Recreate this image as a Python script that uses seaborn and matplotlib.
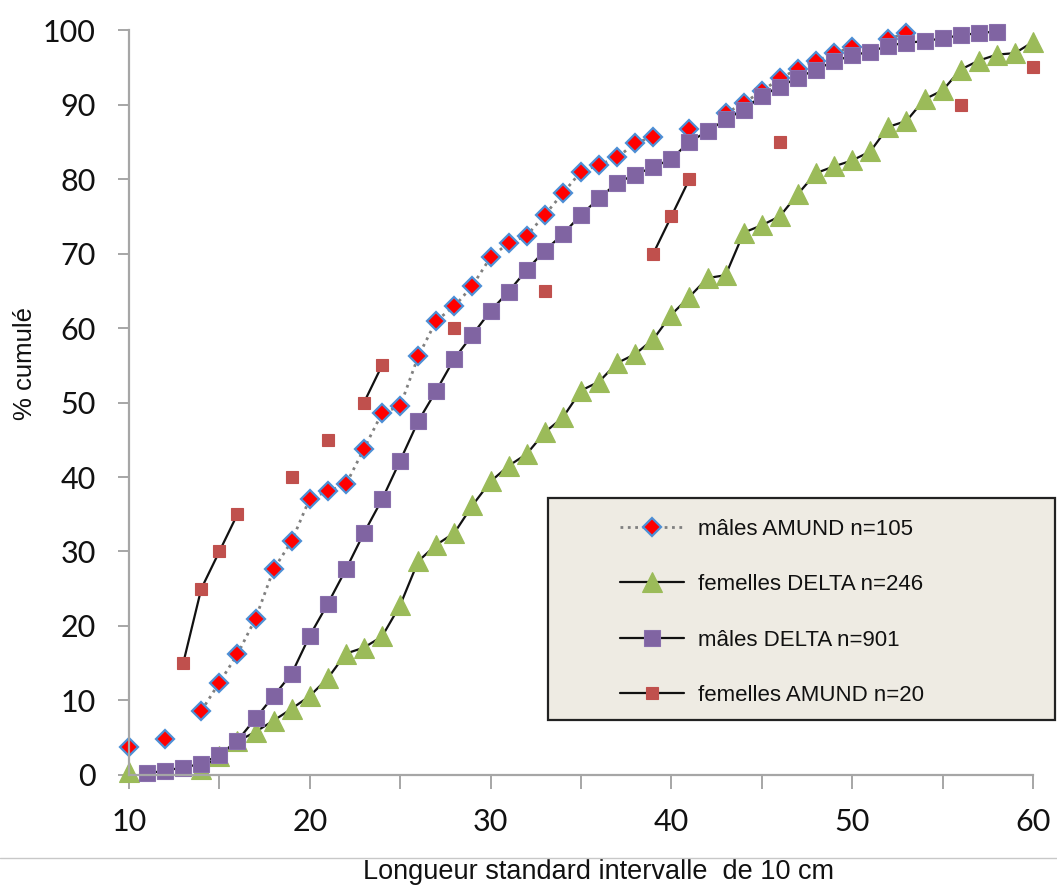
import numpy as np
import pandas as pd
import matplotlib
matplotlib.use('Agg')
import matplotlib.pyplot as plt
from matplotlib.lines import Line2D
from matplotlib.patches import Rectangle
from matplotlib.ticker import MultipleLocator
import seaborn as sns

nan = np.nan
longueur = list(range(10, 61))

# cumulative % per length class (nan = no value in that class)
males_amund = [3.8, nan, 4.8, nan, 8.6, 12.4, 16.2, 21.0, 27.6, 31.4,
               37.1, 38.1, 39.0, 43.8, 48.6, 49.5, 56.2, 61.0, 62.9, 65.7,
               69.5, 71.4, 72.4, 75.2, 78.1, 81.0, 81.9, 82.9, 84.8, 85.7,
               nan, 86.7, nan, 88.8, 90.2, 91.8, 93.5, 94.8, 95.8, 96.9,
               97.7, nan, 98.8, 99.6, nan, nan, nan, nan, nan, nan, nan]
femelles_delta = [0.4, nan, nan, nan, 0.8, 2.6, 4.5, 5.8, 7.3, 8.9,
                  10.6, 13.0, 16.3, 17.1, 18.6, 22.8, 28.7, 30.9, 32.5, 36.2,
                  39.4, 41.5, 43.1, 46.0, 48.0, 51.6, 52.8, 55.3, 56.5, 58.5,
                  61.8, 64.2, 66.7, 67.1, 72.8, 73.8, 75.0, 78.0, 80.8, 81.7,
                  82.5, 83.7, 87.0, 87.8, 90.7, 91.9, 94.7, 95.9, 96.7, 96.9, 98.4]
males_delta = [nan, 0.2, 0.6, 1.0, 1.5, 2.7, 4.6, 7.6, 10.6, 13.6,
               18.7, 23.0, 27.6, 32.5, 37.0, 42.2, 47.5, 51.6, 55.9, 59.1,
               62.3, 64.9, 67.8, 70.4, 72.6, 75.2, 77.4, 79.5, 80.6, 81.6,
               82.7, 85.0, 86.4, 88.0, 89.3, 91.2, 92.4, 93.6, 94.7, 95.8,
               96.6, 97.1, 97.9, 98.3, 98.5, 98.9, 99.3, 99.6, 99.8, nan, nan]
femelles_amund = [nan, nan, nan, 15, 25, 30, 35, nan, nan, 40,
                  nan, 45, nan, 50, 55, nan, nan, nan, 60, nan,
                  nan, nan, nan, 65, nan, nan, nan, nan, nan, 70,
                  75, 80, nan, nan, nan, nan, 85, nan, nan, nan,
                  nan, nan, nan, nan, nan, nan, 90, nan, nan, nan, 95]

labels = ["mâles AMUND n=105", "femelles DELTA n=246",
          "mâles DELTA n=901", "femelles AMUND n=20"]
values = [males_amund, femelles_delta, males_delta, femelles_amund]

styles = [
    dict(color='#808080', lw=2, linestyle=':', marker='D', ms=9.5,
         mfc='#ff0000', mec='#4d8fd6', mew=1.6),
    dict(color='#111111', lw=1.6, linestyle='-', marker='^', ms=14,
         mfc='#9bbb59', mec='#9bbb59', mew=0.8),
    dict(color='#111111', lw=1.6, linestyle='-', marker='s', ms=11,
         mfc='#8064a2', mec='#8a70ad', mew=0.8),
    dict(color='#111111', lw=1.6, linestyle='-', marker='s', ms=8.5,
         mfc='#c0504d', mec='#c0504d', mew=0.8),
]

sns.set_style('ticks')
plt.rcParams['font.family'] = ['Lato', 'DejaVu Sans']

fig = plt.figure(figsize=(10.57, 8.86), dpi=100)
ax = fig.add_axes([0.122, 0.1253, 0.8553, 0.8408])

for lab, vals, st in zip(labels, values, styles):
    d = pd.DataFrame({'longueur': longueur, 'pct': vals})
    d['seg'] = d['pct'].isna().cumsum()
    d = d.dropna()
    sns.lineplot(data=d, x='longueur', y='pct', units='seg', estimator=None,
                 ax=ax, legend=False, clip_on=False, **st)

ax.set_xlim(10, 60)
ax.set_ylim(0, 100)
ax.xaxis.set_major_locator(MultipleLocator(10))
ax.xaxis.set_minor_locator(MultipleLocator(5))
ax.yaxis.set_major_locator(MultipleLocator(10))
sns.despine(ax=ax)
for s in ['left', 'bottom']:
    ax.spines[s].set_color('#a6a6a6')
    ax.spines[s].set_linewidth(1.6)
ax.tick_params(axis='x', which='both', bottom=True, direction='out', length=10,
               width=1.4, color='#a6a6a6', pad=14, labelsize=22, labelcolor='#111111')
ax.tick_params(axis='y', which='major', left=True, direction='out', length=8,
               width=1.4, color='#a6a6a6', pad=16, labelsize=22, labelcolor='#111111')
ax.tick_params(axis='y', which='minor', left=False)

ax.set_xlabel("Longueur standard intervalle  de 10 cm", fontsize=19.5,
              color='#111111', family=['Liberation Sans', 'DejaVu Sans'])
ax.xaxis.set_label_coords(0.519, -0.113)
ax.set_ylabel("% cumulé", fontsize=18.5, color='#111111',
              family=['Liberation Sans', 'DejaVu Sans'])
ax.yaxis.set_label_coords(-0.102, 0.553)

# thin separator line above the x label
fig.add_artist(Line2D([0, 1], [0.0316, 0.0316], transform=fig.transFigure,
                      color='#c8c8c8', lw=1))

# legend box
fig.add_artist(Rectangle((548 / 1057, 1 - 720 / 886), 507 / 1057, 222 / 886,
                         transform=fig.transFigure, facecolor='#eeebe3',
                         edgecolor='#222222', lw=1.6))
handles = [Line2D([], [], **st) for st in styles]
fig.legend(handles, labels, loc='upper left', bbox_to_anchor=(0.5866, 0.4145),
           bbox_transform=fig.transFigure, frameon=False, borderpad=0,
           borderaxespad=0, handlelength=2.9, handletextpad=0.6,
           labelspacing=1.55, labelcolor='#111111',
           prop=dict(family=['Liberation Sans', 'DejaVu Sans'], size=16))

fig.savefig('out.png', dpi=100)
